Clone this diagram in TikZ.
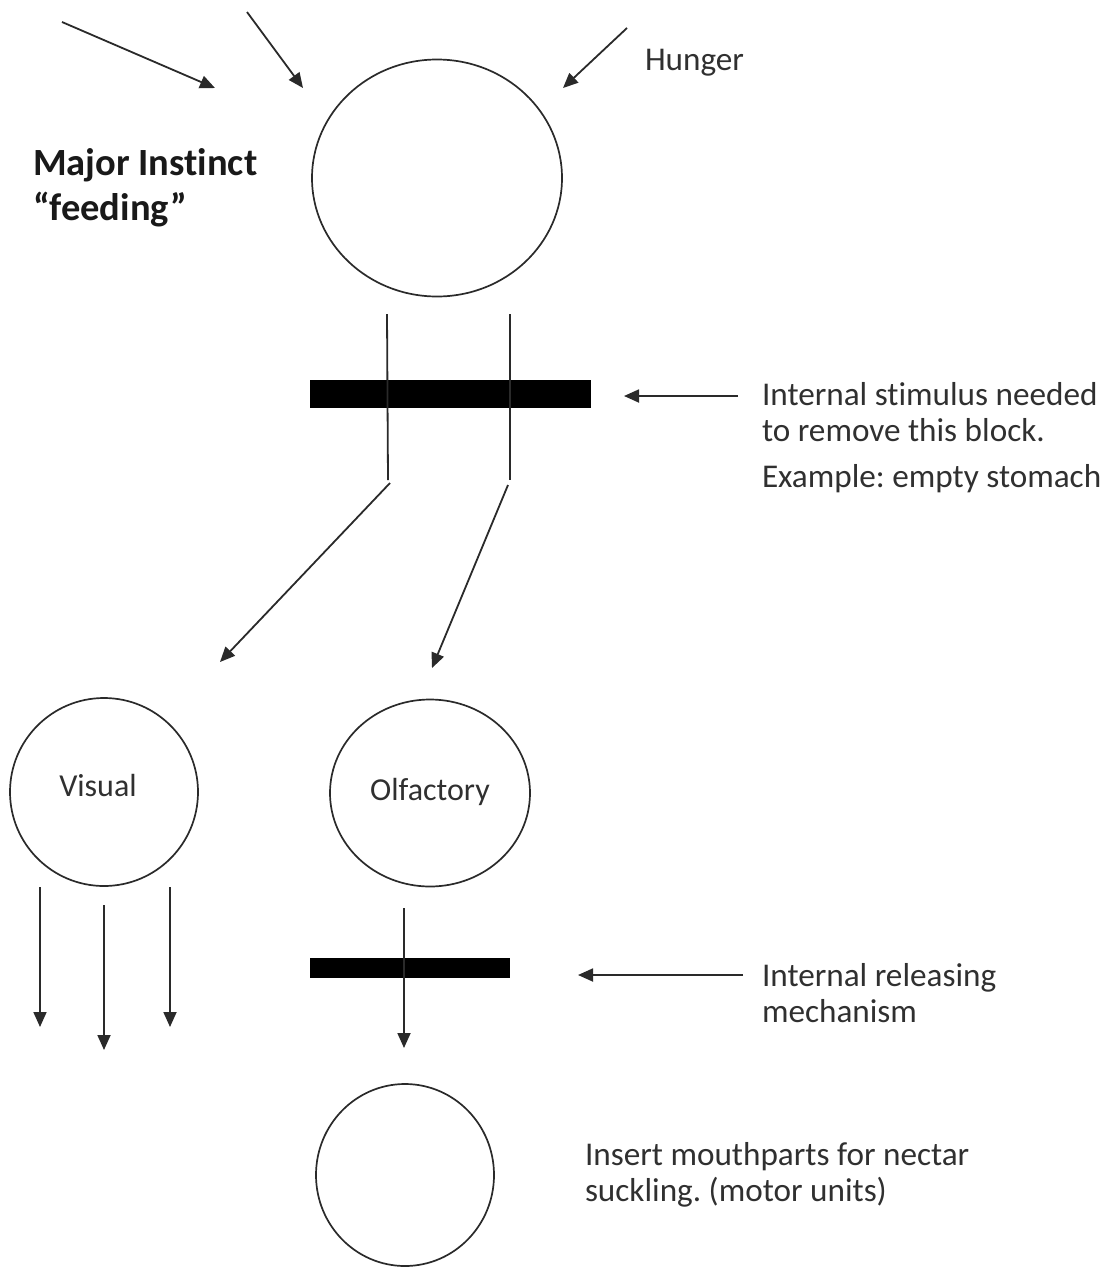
\documentclass[tikz,border=0pt]{standalone}
\usepackage{fontspec}
\setmainfont[Ligatures=NoCommon]{Carlito}
\usetikzlibrary{arrows.meta,shapes.geometric}
\definecolor{txt}{HTML}{303030}
\definecolor{ink}{HTML}{2A2A2A}
\frenchspacing
\begin{document}
\begin{tikzpicture}[x=1pt,y=-1pt,
  every node/.style={inner sep=0pt, outer sep=0pt},
  line/.style={line width=1.8pt, draw=ink},
  arr/.style={line, -{Triangle[length=15pt,width=13pt]}},
  ring/.style={draw=ink, line width=1.7pt, ellipse},
  blockbar/.style={fill=black, draw=none},
  lbl/.style={text=txt, font=\fontsize{33.2}{36}\selectfont\frenchspacing, anchor=base west},
  bold/.style={text=black!90, font=\fontsize{38.5}{44}\selectfont\bfseries, anchor=base west},
]
\useasboundingbox (0,0) rectangle (1110,1267);

% top instinct circle
\node[ring, minimum width=250pt, minimum height=237pt] (instinct) at (437,178) {};

% incoming arrows
\coordinate (a1s) at (62,22);   \coordinate (a1e) at (215,88);
\coordinate (a2s) at (247,12);  \coordinate (a2e) at (303,88);
\coordinate (a3s) at (627,28);  \coordinate (a3e) at (563,88);
\draw[arr] (a1s) -- (a1e);
\draw[arr] (a2s) -- (a2e);
\draw[arr] (a3s) -- (a3e);

\node[lbl] (hunger) at (645,70) {Hunger};
\node[bold] (major) at (33,175) {Major Instinct};
\node[bold] (feeding) at (33,220) {“feeding”};

% block 1
\node[blockbar, minimum width=281pt, minimum height=28pt, anchor=north west] (bar1) at (310,380) {};
\coordinate (v1t) at (387,314); \coordinate (v1b) at (388,480);
\coordinate (v2t) at (510,314); \coordinate (v2b) at (510,480);
\draw[line] (v1t) -- (v1b);
\draw[line] (v2t) -- (v2b);
\coordinate (d1s) at (390,483); \coordinate (d1e) at (220,662);
\coordinate (d2s) at (508,485); \coordinate (d2e) at (432,668);
\draw[arr] (d1s) -- (d1e);
\draw[arr] (d2s) -- (d2e);

\coordinate (n1s) at (738,396); \coordinate (n1e) at (624,396);
\draw[arr] (n1s) -- (n1e);
\node[lbl] (t1) at (762,405) {Internal stimulus needed};
\node[lbl] (t2) at (762,441) {to remove this block.};
\node[lbl] (t3) at (762,487) {Example: empty stomach};

% second level
\node[ring, minimum width=188pt, minimum height=188pt] (visual) at (104,792) {};
\node[text=txt, font=\fontsize{32}{36}\selectfont] (visuallbl) at (98,785) {Visual};
\node[ring, minimum width=200pt, minimum height=187pt] (olf) at (430,793) {};
\node[text=txt, font=\fontsize{32}{36}\selectfont] (olflbl) at (430,792) {Olfactory};

\coordinate (va) at (40,887);  \coordinate (vae) at (40,1027);
\coordinate (vb) at (104,905); \coordinate (vbe) at (104,1050);
\coordinate (vc) at (170,887); \coordinate (vce) at (170,1027);
\draw[arr] (va) -- (vae);
\draw[arr] (vb) -- (vbe);
\draw[arr] (vc) -- (vce);

\node[blockbar, minimum width=200pt, minimum height=20pt, anchor=north west] (bar2) at (310,958) {};
\coordinate (oa) at (404,908); \coordinate (oae) at (404,1048);
\draw[arr] (oa) -- (oae);

\coordinate (n2s) at (743,975); \coordinate (n2e) at (578,975);
\draw[arr] (n2s) -- (n2e);
\node[lbl] (t4) at (762,986) {Internal releasing};
\node[lbl] (t5) at (762,1022) {mechanism};

% motor unit circle
\node[ring, minimum width=178pt, minimum height=182pt] (motor) at (405,1175) {};
\node[lbl] (t6) at (585,1165) {Insert mouthparts for nectar};
\node[lbl] (t7) at (585,1201) {suckling. (motor units)};
\end{tikzpicture}
\end{document}
